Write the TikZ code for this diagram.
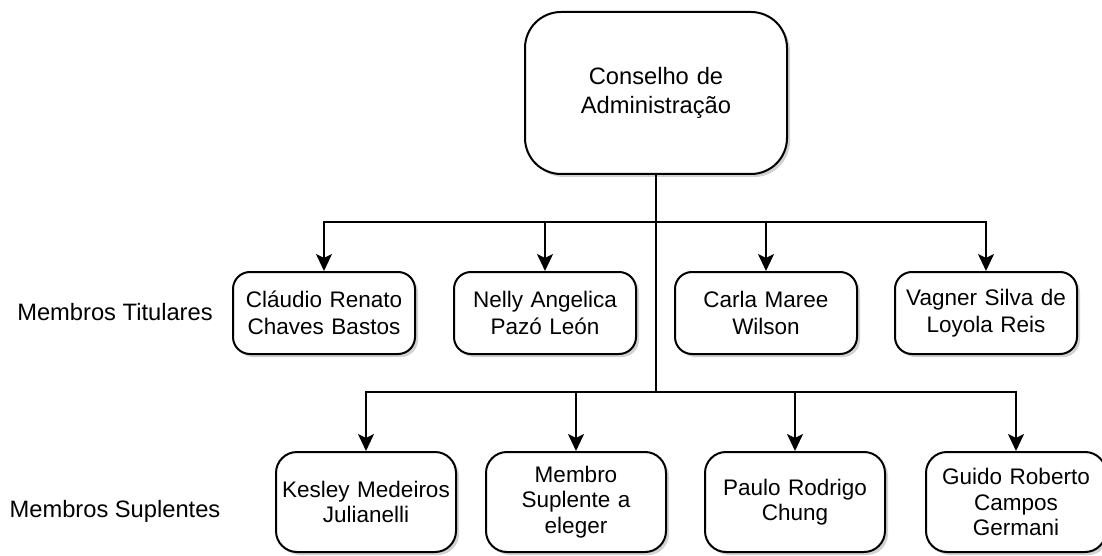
\documentclass[tikz,border=0pt]{standalone}
\usepackage{fontspec}
\setmainfont{Liberation Sans}
\usetikzlibrary{arrows.meta,shadows}

\begin{document}
\begin{tikzpicture}[x=1pt,y=-1pt]
\tikzstyle{boxshadow} = [drop shadow={shadow xshift=3pt, shadow yshift=-3pt, opacity=0.25, fill=black!70}]
\tikzstyle{council} = [rectangle, draw=black, line width=2pt, fill=white, rounded corners=36pt,
text width=240pt, text centered, minimum width=262pt, minimum height=162pt,
font=\fontsize{23.7}{28.5}\selectfont, boxshadow]
\tikzstyle{titular} = [rectangle, draw=black, line width=2pt, fill=white, rounded corners=17pt,
text width=172pt, text centered, minimum width=182pt, minimum height=82pt,
font=\fontsize{22.5}{26.5}\selectfont, boxshadow]
\tikzstyle{suplente} = [titular, rounded corners=21pt, minimum width=180pt, minimum height=100pt,
font=\fontsize{22.5}{25.5}\selectfont]
\tikzstyle{rowlabel} = [font=\fontsize{23.7}{28}\selectfont]
\tikzstyle{line} = [draw, line width=2pt, -{Stealth[length=17pt,width=16pt,inset=4pt]}];
\useasboundingbox (0,0) rectangle (1102,556);
% top
\node [council] (conselho) at (656,93) {Conselho de\\ Administração};
% row 1
\node [rowlabel] (labelT) at (115,312) {Membros Titulares};
\node [titular] (claudio) at (324,313) {Cláudio Renato\\ Chaves Bastos};
\node [titular] (nelly) at (545,313) {Nelly Angelica\\ Pazó León};
\node [titular] (carla) at (766,313) {Carla Maree\\ Wilson};
\node [titular] (vagner) at (986,313) {Vagner Silva de\\ Loyola Reis};
% row 2
\node [rowlabel] (labelS) at (115,511) {Membros Suplentes};
\node [suplente] (kesley) at (366,502) {Kesley Medeiros\\ Julianelli};
\node [suplente] (membro) at (576,502) {Membro\\ Suplente a\\ eleger};
\node [suplente] (paulo) at (795,502) {Paulo Rodrigo\\ Chung};
\node [suplente] (guido) at (1016,502) {Guido Roberto\\ Campos\\ Germani};
\coordinate (busT) at (656,222);
\coordinate (busS) at (656,392);
\tikzstyle{every path}=[line]
\foreach \m in {claudio,nelly,carla,vagner}
  \path (conselho.south) -- (busT) -| (\m.north);
\foreach \m in {kesley,membro,paulo,guido}
  \path (conselho.south) -- (busS) -| (\m.north);
\end{tikzpicture}
\end{document}
